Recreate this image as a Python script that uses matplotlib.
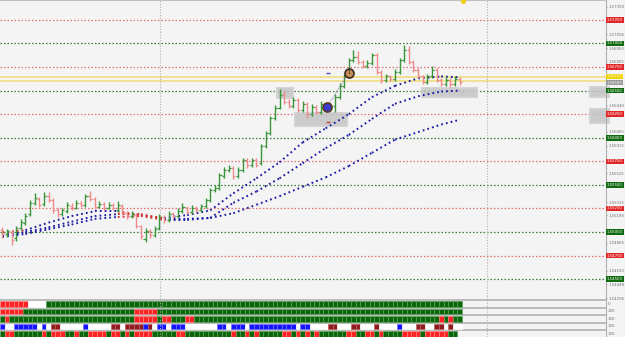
import matplotlib
matplotlib.use('Agg')
import matplotlib.pyplot as plt
from matplotlib.patches import Rectangle
import numpy as np

# ---------------- data ----------------
opens = [1.5502, 1.5498, 1.5500, 1.5494, 1.5504, 1.5510, 1.5519, 1.5531, 1.5535, 1.5530,
         1.5538, 1.5534, 1.5523, 1.5519, 1.5522, 1.5528, 1.5526, 1.5531, 1.5529, 1.5538,
         1.5535, 1.5527, 1.5530, 1.5526, 1.5529, 1.5523, 1.5528, 1.5520, 1.5517, 1.5518,
         1.5506, 1.5493, 1.5501, 1.5497, 1.5504, 1.5516, 1.5513, 1.5519, 1.5517, 1.5522,
         1.5526, 1.5521, 1.5526, 1.5523, 1.5528, 1.5534, 1.5545, 1.5547, 1.5559, 1.5566,
         1.5568, 1.5559, 1.5566, 1.5576, 1.5571, 1.5576, 1.5573, 1.5591, 1.5605, 1.5621,
         1.5632, 1.5645, 1.5638, 1.5634, 1.5640, 1.5629, 1.5636, 1.5625, 1.5633, 1.5627,
         1.5636, 1.5630, 1.5634, 1.5643, 1.5655, 1.5665, 1.5682, 1.5686, 1.5680, 1.5676,
         1.5679, 1.5688, 1.5670, 1.5661, 1.5665, 1.5662, 1.5670, 1.5682, 1.5693, 1.5680,
         1.5672, 1.5665, 1.5659, 1.5665, 1.5672, 1.5661, 1.5657, 1.5661, 1.5657, 1.5662]
closes = [1.5498, 1.5501, 1.5492, 1.5504, 1.5511, 1.5517, 1.5531, 1.5536, 1.5529, 1.5538,
          1.5534, 1.5523, 1.5519, 1.5523, 1.5529, 1.5526, 1.5531, 1.5529, 1.5538, 1.5535,
          1.5527, 1.5530, 1.5526, 1.5529, 1.5526, 1.5529, 1.5520, 1.5517, 1.5519, 1.5506,
          1.5496, 1.5501, 1.5497, 1.5503, 1.5516, 1.5513, 1.5519, 1.5517, 1.5522, 1.5527,
          1.5521, 1.5526, 1.5523, 1.5528, 1.5534, 1.5545, 1.5547, 1.5561, 1.5566, 1.5568,
          1.5559, 1.5566, 1.5576, 1.5571, 1.5576, 1.5571, 1.5591, 1.5605, 1.5621, 1.5632,
          1.5645, 1.5638, 1.5634, 1.5640, 1.5629, 1.5636, 1.5625, 1.5633, 1.5627, 1.5636,
          1.5630, 1.5634, 1.5643, 1.5655, 1.5665, 1.5682, 1.5686, 1.5680, 1.5676, 1.5679,
          1.5688, 1.5670, 1.5661, 1.5665, 1.5662, 1.5670, 1.5682, 1.5693, 1.5680, 1.5672,
          1.5665, 1.5659, 1.5665, 1.5672, 1.5661, 1.5657, 1.5661, 1.5657, 1.5662, 1.5659]
highs = [1.5505, 1.5503, 1.5502, 1.5506, 1.5514, 1.5520, 1.5534, 1.5541, 1.5537, 1.5542,
         1.5543, 1.5536, 1.5525, 1.5526, 1.5532, 1.5531, 1.5534, 1.5533, 1.5540, 1.5544,
         1.5537, 1.5533, 1.5532, 1.5532, 1.5531, 1.5533, 1.5530, 1.5522, 1.5522, 1.5520,
         1.5508, 1.5504, 1.5503, 1.5506, 1.5519, 1.5518, 1.5522, 1.5521, 1.5525, 1.5531,
         1.5528, 1.5529, 1.5528, 1.5530, 1.5536, 1.5547, 1.5550, 1.5563, 1.5569, 1.5571,
         1.5570, 1.5569, 1.5578, 1.5578, 1.5579, 1.5578, 1.5593, 1.5607, 1.5623, 1.5635,
         1.5652, 1.5650, 1.5641, 1.5643, 1.5642, 1.5639, 1.5638, 1.5636, 1.5635, 1.5639,
         1.5638, 1.5637, 1.5646, 1.5658, 1.5668, 1.5685, 1.5693, 1.5692, 1.5682, 1.5682,
         1.5690, 1.5690, 1.5672, 1.5668, 1.5667, 1.5673, 1.5685, 1.5698, 1.5697, 1.5682,
         1.5674, 1.5667, 1.5668, 1.5676, 1.5674, 1.5663, 1.5664, 1.5663, 1.5665, 1.5664]
lows = [1.5494, 1.5495, 1.5486, 1.5491, 1.5502, 1.5508, 1.5517, 1.5529, 1.5527, 1.5528,
        1.5532, 1.5520, 1.5516, 1.5517, 1.5520, 1.5523, 1.5524, 1.5527, 1.5527, 1.5533,
        1.5524, 1.5525, 1.5523, 1.5524, 1.5523, 1.5521, 1.5518, 1.5514, 1.5515, 1.5504,
        1.5493, 1.5490, 1.5494, 1.5495, 1.5502, 1.5510, 1.5511, 1.5515, 1.5515, 1.5520,
        1.5519, 1.5519, 1.5521, 1.5521, 1.5526, 1.5532, 1.5542, 1.5545, 1.5557, 1.5564,
        1.5556, 1.5557, 1.5564, 1.5568, 1.5569, 1.5569, 1.5571, 1.5589, 1.5603, 1.5619,
        1.5630, 1.5636, 1.5632, 1.5632, 1.5627, 1.5627, 1.5621, 1.5623, 1.5625, 1.5625,
        1.5628, 1.5628, 1.5627, 1.5641, 1.5653, 1.5663, 1.5680, 1.5678, 1.5674, 1.5674,
        1.5677, 1.5668, 1.5658, 1.5659, 1.5660, 1.5660, 1.5668, 1.5680, 1.5678, 1.5670,
        1.5663, 1.5657, 1.5657, 1.5663, 1.5659, 1.5655, 1.5655, 1.5654, 1.5655, 1.5656]

ma_index = [0, 5, 10, 15, 20, 25, 30, 35, 40, 45, 50, 55, 60, 65, 70, 75, 80, 85, 90, 95, 99]
ma_slow1 = [1.5500, 1.5502, 1.5510, 1.5517, 1.5522, 1.5522, 1.5518, 1.5515, 1.5518, 1.5523,
            1.5541, 1.5557, 1.5574, 1.5595, 1.5610, 1.5625, 1.5643, 1.5655, 1.5663, 1.5665, 1.5664]
ma_slow2 = [1.5497, 1.5500, 1.5505, 1.5511, 1.5517, 1.5519, 1.5519, 1.5514, 1.5514, 1.5515,
            1.5531, 1.5543, 1.5557, 1.5573, 1.5589, 1.5603, 1.5620, 1.5636, 1.5644, 1.5649, 1.5650]
ma_slow3 = [1.5495, 1.5498, 1.5503, 1.5508, 1.5514, 1.5516, 1.5517, 1.5513, 1.5513, 1.5515,
            1.5520, 1.5529, 1.5538, 1.5548, 1.5558, 1.5570, 1.5584, 1.5598, 1.5606, 1.5614, 1.5619]
ma1_red_starts = [0, 25, 30]
ma2_red_starts = [25, 30]
ma3_red_starts = [25, 30]

red_levels = [1.5725, 1.5675, 1.5625, 1.5575, 1.5525, 1.5475]
green_levels = [1.5700, 1.5650, 1.5600, 1.5550, 1.5500, 1.5450]
yellow_levels = [1.5664, 1.5660]
axis_ticks = [1.57390, 1.57095, 1.56950, 1.56805, 1.56340, 1.56065, 1.55915,
              1.55625, 1.55315, 1.55180, 1.54885, 1.54590, 1.54448, 1.54296]
separators = [34.1, 104.9]

# zones: (x0, x1, price_top, price_bottom)
zones = [(59.5, 62.9, 1.5653, 1.5642), (63.4, 74.6, 1.5626, 1.5612),
         (90.8, 102.7, 1.5653, 1.5643), (127.2, 131.3, 1.5654, 1.5643),
         (127.2, 131.3, 1.5630, 1.5616)]
signal_x = [75.0, 70.3]
signal_y = [1.5669, 1.5633]

# status rows (g=green, r=red, b=blue, d=dark red, w=empty)
row1 = "rrrrrr" + "wwww" + "g" * 90
row2 = "rrrrr" + "g" * 24 + "rrrrr" + "g" * 66
row3 = "grgggggggggggggggggggggggggggrrrrrgrrgggrr" + "g" * 53 + "rgrgg"
row4 = ("bwwbbbbbwbwddwwwwwbwwwwwddwddddbdwbbwbbb" +
        "wwwwwwwbbwbbbwbbbbbbbbbbwbbwwwwddwwwddwwwd" +
        "wwwwbwwwddwwddwdww")
row5 = ("grrggggggrgrrrggrggrrrrgrrgrgrrrrgggggrr" +
        "ggggggggggrggrgrgggggrrgrgrgrggggggrrggrrgrg" +
        "gggrrrrgrrrrrgg")
row_labels = ["0", "100", "100", "100", "100"]

# ---------------- figure ----------------
BG = '#f4f4f4'
W, H = 625, 337
FS = 2.8
fig = plt.figure(figsize=(W / 100, H / 100), dpi=100, facecolor=BG)
ax_right = 606 / W
main_bottom_px = 299
ax = fig.add_axes([0, 1 - main_bottom_px / H, ax_right, main_bottom_px / H], facecolor=BG)
axb = fig.add_axes([0, 0, ax_right, (H - main_bottom_px) / H], facecolor=BG)

n = len(opens)
idx = np.arange(n)
xmin, xmax = -0.5, 130.67
ax.set_xlim(xmin, xmax)
ax.set_ylim(1.5746 - 299 * 0.000106, 1.5746)

# levels
for lv in red_levels:
    ax.axhline(lv, color='#e07070', lw=0.9, ls=(0, (1.2, 1.6)), zorder=1)
for lv in green_levels:
    ax.axhline(lv, color='#3c7a3c', lw=0.9, ls=(0, (1.2, 1.6)), zorder=1)
for lv in yellow_levels:
    ax.axhline(lv, color='#f0e08a', lw=1.3, zorder=1)

for s in separators:
    ax.axvline(s, color='#b0b0b0', lw=0.8, ls=(0, (1, 1.5)), zorder=1)
    axb.axvline(s, color='#b0b0b0', lw=0.8, ls=(0, (1, 1.5)), zorder=5)

# zones
for (x0, x1, pt, pb) in zones:
    ax.add_patch(Rectangle((x0, pb), x1 - x0, pt - pb, facecolor='#c4c4c4',
                           edgecolor='#d0d0d0', lw=1.5, alpha=0.85, zorder=2, clip_on=False))

# MAs
def draw_ma(vals, red_starts):
    for k in range(len(ma_index) - 1):
        c = '#d03030' if ma_index[k] in red_starts else '#1a1aa8'
        ax.plot(ma_index[k:k + 2], vals[k:k + 2], color=c, lw=1.4,
                ls=(0, (0.9, 1.6)), zorder=3, solid_capstyle='butt')

draw_ma(ma_slow3, ma3_red_starts)
draw_ma(ma_slow2, ma2_red_starts)
draw_ma(ma_slow1, ma1_red_starts)

# OHLC bars
up = np.array(closes) >= np.array(opens)
cols = np.where(up, '#3b963b', '#ee8a8a')
ax.vlines(idx, lows, highs, colors=cols, lw=1.0, zorder=4)
ax.hlines(opens, idx - 0.45, idx, colors=cols, lw=0.9, zorder=4)
ax.hlines(closes, idx, idx + 0.45, colors=cols, lw=0.9, zorder=4)

# signals
ax.plot(signal_x, signal_y, color='#7070b0', lw=0.6, ls=(0, (1, 1)), zorder=5)
ax.plot([signal_x[0]], [signal_y[0]], 'o', ms=6.5, mfc='#c8905a', mec='#3a2a20', mew=1.2, zorder=6)
ax.plot([signal_x[1]], [signal_y[1]], 'o', ms=6.5, mfc='#3a3ad0', mec='#5a3a20', mew=1.2, zorder=6)
ax.text(signal_x[0], signal_y[0], '1', fontsize=3.5, color='#2a1a10', ha='center', va='center', zorder=7)
ax.plot([70.5], [1.5669], marker='_', color='#5050c0', ms=3, mew=1, zorder=6)
ax.plot([70.5], [1.5617], marker='_', color='#d04040', ms=3, mew=1, zorder=6)
ax.plot([99.8], [1.5745], marker='o', color='#f0d000', ms=2.5, zorder=6, clip_on=False)

# axes styling
for side in ['left', 'bottom']:
    ax.spines[side].set_visible(False)
ax.spines['top'].set_color('#c0c0c0')
ax.spines['right'].set_color('#b0b0b0')
ax.spines['right'].set_linewidth(0.8)
ax.set_xticks([])
ax.yaxis.tick_right()
ax.set_yticks(axis_ticks)
ax.set_yticklabels([f'{t:.5f}' for t in axis_ticks])
ax.tick_params(axis='y', labelsize=FS, colors='#707070', length=1.0, width=0.5, pad=0.8)

trans = ax.get_yaxis_transform()
def tag(lv, fc, tc='white'):
    ax.text(1.0015, lv, f'{lv:.5f}', transform=trans, fontsize=FS, color=tc, va='center',
            ha='left', clip_on=False, zorder=10,
            bbox=dict(boxstyle='square,pad=0.2', fc=fc, ec='none'))
for lv in red_levels:
    tag(lv, '#e02828')
for lv in green_levels:
    tag(lv, '#106a10')
tag(yellow_levels[0] + 0.0001, '#f0d200', '#fffbe0')
tag(yellow_levels[1] - 0.00015, '#9a9a9a', '#f0f0f0')

# ---------------- bottom panel ----------------
axb.set_xlim(xmin, xmax)
axb.set_ylim(38, 0)
axb.axis('off')
row_top = [2, 9.5, 17, 24.5, 32]
row_h = 5.5
for sy in [0, 7.5, 15, 22.5, 30]:
    axb.add_patch(Rectangle((xmin, sy), xmax - xmin, 2, facecolor='#bcbcbc', edgecolor='none', zorder=1))
face = {'g': '#0b650b', 'r': '#ff2424', 'b': '#1414ff', 'd': '#8e1c1c', 'w': '#ffffff'}
edge = {'g': '#58a058', 'r': '#ff8080', 'b': '#7070ff', 'd': '#c06060', 'w': '#ffffff'}
for r, codes in enumerate([row1, row2, row3, row4, row5]):
    for i, ch in enumerate(codes[:n]):
        axb.add_patch(Rectangle((i - 0.5, row_top[r]), 1, row_h, facecolor=face[ch],
                                edgecolor=edge[ch], lw=0.5, zorder=2))
    fig.text(608 / W, 1 - (299 + row_top[r] + row_h / 2) / H, row_labels[r], fontsize=FS,
             color='#707070', va='center', ha='left')
fig.add_artist(plt.Line2D([ax_right, ax_right], [0, 1 - main_bottom_px / H], color='#b0b0b0', lw=0.8))

fig.savefig('out.png', dpi=100, facecolor=BG)
